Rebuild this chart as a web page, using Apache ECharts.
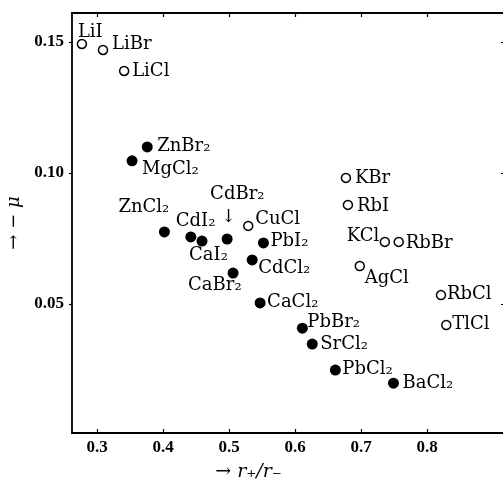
<!DOCTYPE html>
<html>
<head>
<meta charset="utf-8">
<script src="https://cdn.jsdelivr.net/npm/echarts@6/dist/echarts.min.js"></script>
<style>
    html, body { margin: 0; padding: 0; background: #fff; }
    #chart { width: 503px; height: 483px; }
</style>
</head>
<body>
<div id="chart"></div>
<script>
// open circles (1-valent cations)
var openNames = ['LiI', 'LiBr', 'LiCl', 'CuCl', 'KBr', 'RbI', 'KCl', 'RbBr', 'AgCl', 'RbCl', 'TlCl'];
var openX = [0.277, 0.309, 0.341, 0.529, 0.677, 0.680, 0.736, 0.757, 0.698, 0.821, 0.829];
var openY = [0.1492, 0.1469, 0.1389, 0.0798, 0.0981, 0.0878, 0.0737, 0.0737, 0.0645, 0.0534, 0.0420];

// filled circles (2-valent cations)
var filledNames = ['ZnBr₂', 'MgCl₂', 'ZnCl₂', 'CdI₂', 'CaI₂', 'CdBr₂', 'CaBr₂', 'PbI₂', 'CdCl₂',
    'CaCl₂', 'PbBr₂', 'SrCl₂', 'PbCl₂', 'BaCl₂'];
var filledX = [0.376, 0.353, 0.402, 0.442, 0.459, 0.497, 0.506, 0.552, 0.535,
    0.547, 0.611, 0.626, 0.661, 0.749];
var filledY = [0.1099, 0.1046, 0.0775, 0.0756, 0.0740, 0.0748, 0.0618, 0.0733, 0.0668,
    0.0504, 0.0408, 0.0347, 0.0248, 0.0198];

var xTicks = [0.3, 0.4, 0.5, 0.6, 0.7, 0.8];
var yTicks = [0.05, 0.10, 0.15];

// where each label sits relative to its point (text left edge, text middle)
var labelShift = {
    'LiI': [-4, -12], 'LiBr': [9, -6], 'LiCl': [8, 0], 'CuCl': [7, -7],
    'KBr': [9, 0], 'RbI': [9, 1], 'KCl': [-38, -6], 'RbBr': [7, 1],
    'AgCl': [5, 12], 'RbCl': [6, -1], 'TlCl': [6, -1],
    'ZnBr₂': [10, -1], 'MgCl₂': [10, 8], 'ZnCl₂': [-46, -25], 'CdI₂': [-15, -16],
    'CaI₂': [-13, 14], 'CdBr₂': [-17, -34], 'CaBr₂': [-45, 12], 'PbI₂': [7, -2],
    'CdCl₂': [6, 8], 'CaCl₂': [7, -1], 'PbBr₂': [5, -6], 'SrCl₂': [8, 0],
    'PbCl₂': [7, -1], 'BaCl₂': [9, 0]
};

var ink = '#000';
var serif = 'DejaVu Serif';

function buildPoints(names, xs, ys) {
    var out = [];
    for (var i = 0; i < names.length; i++) {
        var s = labelShift[names[i]] || [8, 0];
        var item = {
            name: names[i],
            value: [xs[i], ys[i]],
            label: { offset: s }
        };
        if (names[i] === 'CdBr₂') {
            item.label.formatter = '{t|CdBr₂}\n{a|↓}';
        }
        out.push(item);
    }
    return out;
}

var labelStyle = {
    show: true,
    position: 'inside',
    align: 'left',
    verticalAlign: 'middle',
    formatter: '{b}',
    color: ink,
    opacity: 1,
    fontFamily: serif,
    fontSize: 18,
    rich: {
        t: { fontFamily: serif, fontSize: 18, color: ink, lineHeight: 24 },
        a: { fontFamily: serif, fontSize: 18, color: ink, lineHeight: 22, padding: [0, 0, 0, 11] }
    }
};

var tickFont = {
    color: ink,
    fontFamily: 'Liberation Serif',
    fontWeight: 'bold',
    fontSize: 17
};

var chart = echarts.init(document.getElementById('chart'), null, { renderer: 'canvas' });

var option = {
    animation: false,
    backgroundColor: '#fff',
    grid: { left: 72, right: -2, top: 13, bottom: 50, outerBoundsMode: 'none', containLabel: false },
    xAxis: [{
        type: 'value',
        min: 0.262,
        max: 0.918,
        name: '{a|→ }{r|r₊/r₋}',
        nameLocation: 'middle',
        nameGap: 30,
        nameTextStyle: {
            padding: [0, 80, 0, 0],
            rich: {
                a: { fontFamily: serif, fontSize: 19, color: ink },
                r: { fontFamily: serif, fontSize: 19, fontStyle: 'italic', color: ink }
            }
        },
        axisLine: { lineStyle: { color: ink, width: 1.8 } },
        axisTick: { inside: true, length: 4, customValues: xTicks, lineStyle: { color: ink, width: 1.2 } },
        axisLabel: Object.assign({
            customValues: xTicks,
            margin: 6,
            formatter: function (v) { return v.toFixed(1); }
        }, tickFont),
        splitLine: { show: false }
    }, {
        type: 'value',
        position: 'top',
        min: 0.262,
        max: 0.918,
        axisLine: { show: true, lineStyle: { color: ink, width: 1.8 } },
        axisTick: { show: true, inside: true, length: 4, customValues: xTicks, lineStyle: { color: ink, width: 1.2 } },
        axisLabel: { show: false },
        splitLine: { show: false }
    }],
    yAxis: [{
        type: 'value',
        min: 0.0008,
        max: 0.161,
        name: '{a|→ − }{m|μ}',
        nameLocation: 'middle',
        nameRotate: 90,
        nameGap: 48,
        nameTextStyle: {
            rich: {
                a: { fontFamily: serif, fontSize: 18, color: ink },
                m: { fontFamily: serif, fontSize: 18, fontStyle: 'italic', color: ink }
            }
        },
        axisLine: { lineStyle: { color: ink, width: 1.8 } },
        axisTick: { inside: false, length: 3, customValues: yTicks, lineStyle: { color: ink, width: 1.2 } },
        axisLabel: Object.assign({
            customValues: yTicks,
            margin: 8,
            formatter: function (v) { return v.toFixed(2); }
        }, tickFont),
        splitLine: { show: false }
    }, {
        type: 'value',
        position: 'right',
        min: 0.0008,
        max: 0.161,
        axisLine: { show: true, lineStyle: { color: ink, width: 1.8 } },
        axisTick: { show: true, inside: true, length: 4, customValues: yTicks, lineStyle: { color: ink, width: 1.2 } },
        axisLabel: { show: false },
        splitLine: { show: false }
    }],
    series: [{
        name: 'open',
        type: 'scatter',
        symbol: 'circle',
        symbolSize: 9,
        itemStyle: { color: '#fff', borderColor: ink, borderWidth: 1.5, opacity: 1 },
        label: labelStyle,
        data: buildPoints(openNames, openX, openY)
    }, {
        name: 'filled',
        type: 'scatter',
        symbol: 'circle',
        symbolSize: 11,
        itemStyle: { color: ink, opacity: 1 },
        label: labelStyle,
        data: buildPoints(filledNames, filledX, filledY)
    }]
};

chart.setOption(option);
</script>
</body>
</html>
